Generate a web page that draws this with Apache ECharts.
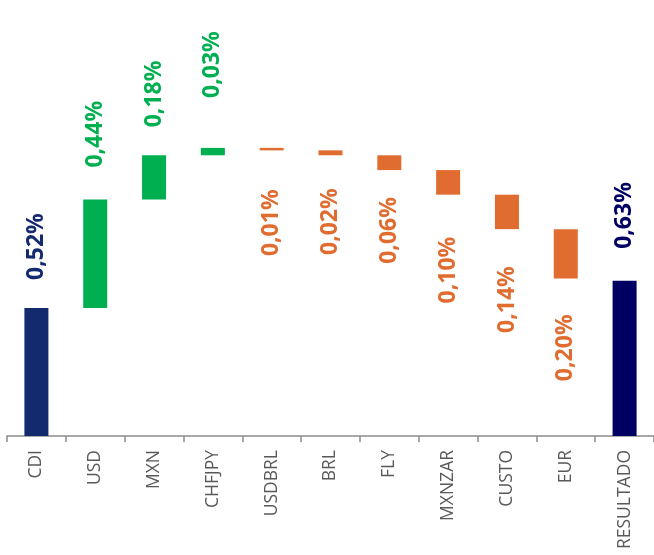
<!DOCTYPE html>
<html>
<head>
<meta charset="utf-8">
<script src="https://cdn.jsdelivr.net/npm/echarts@6/dist/echarts.min.js"></script>
<style>
  html, body { margin: 0; padding: 0; background: #ffffff; }
  #chart { width: 654px; height: 555px; }
</style>
</head>
<body>
<div id="chart"></div>
<script>
// Attribution waterfall: opening CDI, contributions, closing result (in %)
const categories = ['CDI', 'USD', 'MXN', 'CHFJPY', 'USDBRL', 'BRL', 'FLY', 'MXNZAR', 'CUSTO', 'EUR', 'RESULTADO'];
const openingValue = 0.52;
const contributions = [0.44, 0.18, 0.03, -0.01, -0.02, -0.06, -0.10, -0.14, -0.20];
const resultValue = 0.63;

// Gap in px between each bar and its value label
const labelGaps = [28, 32, 28, 50, 39, 33, 27, 42, 37, 36, 32];

const NAVY_OPEN = '#132a6f';
const NAVY_CLOSE = '#000063';
const GREEN = '#00b050';
const ORANGE = '#e06c2f';

const fmt = v => Math.abs(v).toFixed(2).replace('.', ',') + '%';
const labelFont = { fontFamily: 'Open Sans', fontWeight: 'bold', fontSize: 23 };

const upLabel = (i, color) => ({
  show: true, position: 'top', rotate: 90, distance: labelGaps[i], color,
  align: 'left', verticalAlign: 'middle', ...labelFont
});
const downLabel = (i, color) => ({
  show: true, position: 'bottom', rotate: 90, distance: labelGaps[i], color,
  align: 'right', verticalAlign: 'middle', ...labelFont
});

// Invisible base + visible rise/fall stacks
const base = [], rise = [], fall = [], totals = [];
totals.push({ value: openingValue, itemStyle: { color: NAVY_OPEN }, label: upLabel(0, NAVY_OPEN) });
base.push('-'); rise.push('-'); fall.push('-');
let level = openingValue;
contributions.forEach((d, k) => {
  const i = k + 1;
  const next = level + d;
  base.push(+Math.min(level, next).toFixed(4));
  if (d >= 0) {
    rise.push({ value: d, label: upLabel(i, GREEN) });
    fall.push('-');
  } else {
    rise.push('-');
    fall.push({ value: -d, label: downLabel(i, ORANGE) });
  }
  totals.push('-');
  level = next;
});
base.push('-'); rise.push('-'); fall.push('-');
totals.push({ value: resultValue, itemStyle: { color: NAVY_CLOSE }, label: upLabel(categories.length - 1, NAVY_CLOSE) });

const chart = echarts.init(document.getElementById('chart'), null, { renderer: 'canvas' });
chart.setOption({
  animation: false,
  backgroundColor: '#ffffff',
  grid: { left: 7, right: -2, top: 10, bottom: 119, containLabel: false },
  xAxis: {
    type: 'category',
    data: categories,
    axisLine: { lineStyle: { color: '#8c8c8c', width: 1.5 } },
    axisTick: { show: true, length: 6, lineStyle: { color: '#8c8c8c', width: 1.5 } },
    axisLabel: {
      rotate: 90, interval: 0, margin: 14,
      color: '#595959', fontFamily: 'Open Sans', fontSize: 17.5
    }
  },
  yAxis: { type: 'value', min: 0, max: 1.73, show: false, splitLine: { show: false } },
  series: [
    {
      name: 'totals', type: 'bar', stack: 'w', barWidth: 24, data: totals,
      label: { formatter: p => fmt(p.value) }
    },
    {
      name: 'base', type: 'bar', stack: 'w', barWidth: 24, data: base,
      itemStyle: { color: 'transparent' }, silent: true
    },
    {
      name: 'rise', type: 'bar', stack: 'w', barWidth: 24, data: rise,
      itemStyle: { color: GREEN },
      label: { formatter: p => fmt(p.value) }
    },
    {
      name: 'fall', type: 'bar', stack: 'w', barWidth: 24, data: fall,
      itemStyle: { color: ORANGE },
      label: { formatter: p => fmt(p.value) }
    }
  ]
});
</script>
</body>
</html>
